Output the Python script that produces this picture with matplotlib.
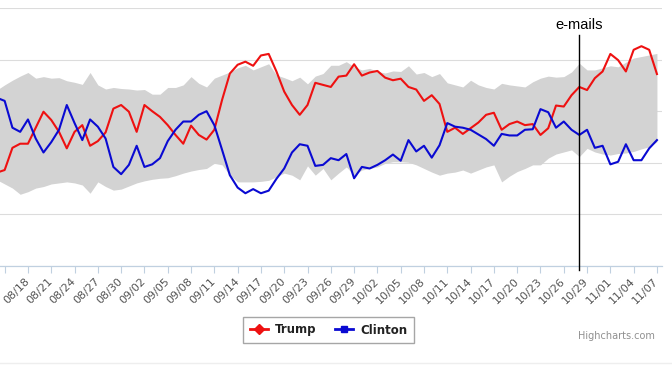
import numpy as np
import pandas as pd
import matplotlib
matplotlib.use("Agg")
import matplotlib.pyplot as plt
import matplotlib.dates as mdates
from matplotlib.lines import Line2D

# ---------------- data ----------------
dates = pd.date_range("2016-08-14", "2016-11-07", freq="D")

trump = [18.1, 18.6, 22.9, 23.7, 23.7, 26.8, 29.9, 28.3, 26.0, 22.8, 26.0, 27.3, 23.3, 24.2, 25.9,
         30.5, 31.2, 29.9, 26.0, 31.2, 30.0, 28.9, 27.3, 25.4, 23.7, 27.2, 25.4, 24.5, 26.4,
         32.2, 37.3, 39.0, 39.6, 38.8, 40.8, 41.1, 37.7, 33.8, 31.2, 29.3, 31.2, 35.5, 35.1, 34.7,
         36.7, 36.9, 39.1, 36.9, 37.5, 37.8, 36.5, 36.0, 36.3, 34.7, 34.2, 32.0, 33.1, 31.4,
         26.0, 26.8, 25.6, 26.7, 27.8, 29.3, 29.7, 26.4, 27.5, 28.0, 27.3, 27.5, 25.4, 26.7,
         31.1, 30.9, 33.1, 34.7, 34.1, 36.4, 37.7, 41.1, 39.9, 37.7, 41.9, 42.6, 41.9, 37.2]

clinton = [32.6, 32.0, 26.8, 26.0, 28.4, 24.7, 22.0, 24.0, 26.4, 31.2, 27.7, 24.4, 28.4, 27.0, 24.7,
           19.2, 17.8, 19.6, 23.3, 19.2, 19.7, 20.9, 24.2, 26.4, 28.0, 28.0, 29.3, 30.0, 27.3,
           22.5, 17.6, 15.2, 14.1, 14.9, 14.1, 14.6, 16.9, 18.9, 22.0, 23.6, 23.3, 19.4, 19.6, 20.9,
           20.5, 21.7, 17.0, 19.2, 18.9, 19.6, 20.5, 21.6, 20.4, 24.4, 22.2, 23.3, 21.0, 23.4,
           27.7, 27.0, 26.8, 26.4, 25.5, 24.6, 23.3, 25.6, 25.3, 25.3, 26.4, 26.5, 30.4, 29.8,
           26.8, 28.0, 26.4, 25.4, 26.4, 22.9, 23.3, 19.7, 20.2, 23.6, 20.5, 20.5, 22.8, 24.4]

band_high = [34.1, 35.1, 36.0, 36.8, 37.5, 36.4, 36.7, 36.4, 36.5, 35.9, 35.6, 35.2, 37.5, 35.1, 34.3,
             34.6, 34.4, 34.3, 34.1, 34.2, 33.3, 33.3, 34.6, 34.6, 35.1, 36.7, 35.4, 34.7, 36.4,
             37.0, 37.6, 38.4, 38.9, 38.0, 38.6, 39.2, 37.0, 36.5, 35.9, 36.6, 35.3, 36.8, 37.3, 38.9,
             38.9, 39.6, 38.6, 38.0, 38.3, 37.7, 37.4, 37.8, 37.7, 38.8, 37.2, 37.5, 36.7, 37.3,
             35.5, 35.1, 34.7, 36.0, 35.1, 34.6, 34.3, 35.4, 35.1, 34.9, 34.7, 35.7, 36.4, 36.8,
             36.6, 36.7, 37.6, 39.3, 38.0, 38.0, 38.4, 38.8, 38.6, 39.5, 40.3, 40.6, 40.9, 41.2]

band_low = [16.7, 15.9, 15.1, 13.9, 14.4, 15.1, 15.4, 15.9, 16.1, 16.3, 16.1, 15.7, 14.1, 16.3, 15.4,
            14.7, 14.9, 15.5, 16.1, 16.5, 16.8, 17.0, 17.1, 17.5, 18.0, 18.4, 18.7, 18.9, 19.9,
            19.6, 17.6, 16.3, 16.3, 16.3, 16.4, 16.6, 17.3, 18.0, 17.6, 16.7, 19.4, 17.6, 18.9, 16.7,
            18.0, 19.2, 17.6, 18.6, 18.9, 19.2, 19.9, 20.2, 20.2, 20.1, 19.6, 18.9, 18.2, 17.6,
            18.0, 18.2, 18.6, 18.0, 18.6, 19.2, 19.6, 16.3, 17.4, 18.3, 18.9, 19.6, 19.6, 20.9,
            21.7, 22.1, 22.5, 21.2, 22.8, 22.1, 21.7, 21.5, 21.8, 21.9, 22.2, 22.7, 23.1, 24.1]

tick_dates = pd.date_range("2016-08-15", "2016-11-07", freq="3D")
tick_labels = [""] + [d.strftime("%m/%d") for d in tick_dates[1:]]
event_date = pd.Timestamp("2016-10-28")
event_label = "e-mails"
series_names = ["Trump", "Clinton"]

# ---------------- style ----------------
RED = "#ee1111"
BLUE = "#0a0ad2"
BAND = "#d3d3d3"
GRID = "#dcdcdc"
AXIS = "#c0d0e0"

fig = plt.figure(figsize=(6.72, 3.65), dpi=100)
ax = fig.add_axes([0, 99 / 365, 662 / 672, 258 / 365])

x = mdates.date2num(dates)
ax.fill_between(x, band_low, band_high, color=BAND, lw=0, zorder=1)
ax.plot(x, trump, color=RED, lw=1.5, solid_joinstyle="round", zorder=3)
ax.plot(x, clinton, color=BLUE, lw=1.5, solid_joinstyle="round", zorder=4)

x0 = mdates.date2num(pd.Timestamp("2016-08-15"))
ax.set_xlim(x0 - 0.6, x0 + 84.65)
ax.set_ylim(0, 50)
ax.set_yticks(np.arange(0, 51, 10))
ax.yaxis.grid(True, color=GRID, lw=0.8, zorder=0)
ax.set_axisbelow(True)
ax.tick_params(axis="y", length=0, labelleft=False)

ax.set_xticks(mdates.date2num(tick_dates))
ax.set_xticklabels(tick_labels, rotation=45, ha="right", va="center",
                   rotation_mode="anchor", fontsize=8, color="#555555")
ax.tick_params(axis="x", length=5, width=0.8, color=AXIS, pad=5)

for s in ["top", "left", "right"]:
    ax.spines[s].set_visible(False)
ax.spines["bottom"].set_color(AXIS)
ax.spines["bottom"].set_linewidth(0.9)
ax.patch.set_visible(False)

# event line
xe = mdates.date2num(event_date)
ax.axvline(xe, ymin=-0.016, ymax=0.895, clip_on=False, color="black", lw=1.0, zorder=5)
ax.text(xe, 0.934, event_label, transform=ax.get_xaxis_transform(), ha="center", va="center",
        fontsize=10.5, family="Liberation Sans", color="black")

# legend
handles = [Line2D([], [], color=RED, lw=2, marker="D", ms=5),
           Line2D([], [], color=BLUE, lw=2, marker="s", ms=5)]
leg = fig.legend(handles, series_names, loc="center", bbox_to_anchor=(328.5 / 672, 35 / 365),
                 ncol=2, frameon=True, fancybox=False, edgecolor="#909090",
                 prop=dict(weight="bold", size=8.5), handlelength=1.5, handletextpad=0.6,
                 columnspacing=1.6, borderpad=0.55, borderaxespad=0)
leg.get_frame().set_linewidth(1.0)
for t in leg.get_texts():
    t.set_color("#222222")

fig.text(655 / 672, 29 / 365, "Highcharts.com", ha="right", va="center", fontsize=7,
         color="#909090")
fig.add_artist(Line2D([0, 1], [2 / 365, 2 / 365], color="#eeeeee", lw=1))

fig.savefig("out.png", dpi=100)
